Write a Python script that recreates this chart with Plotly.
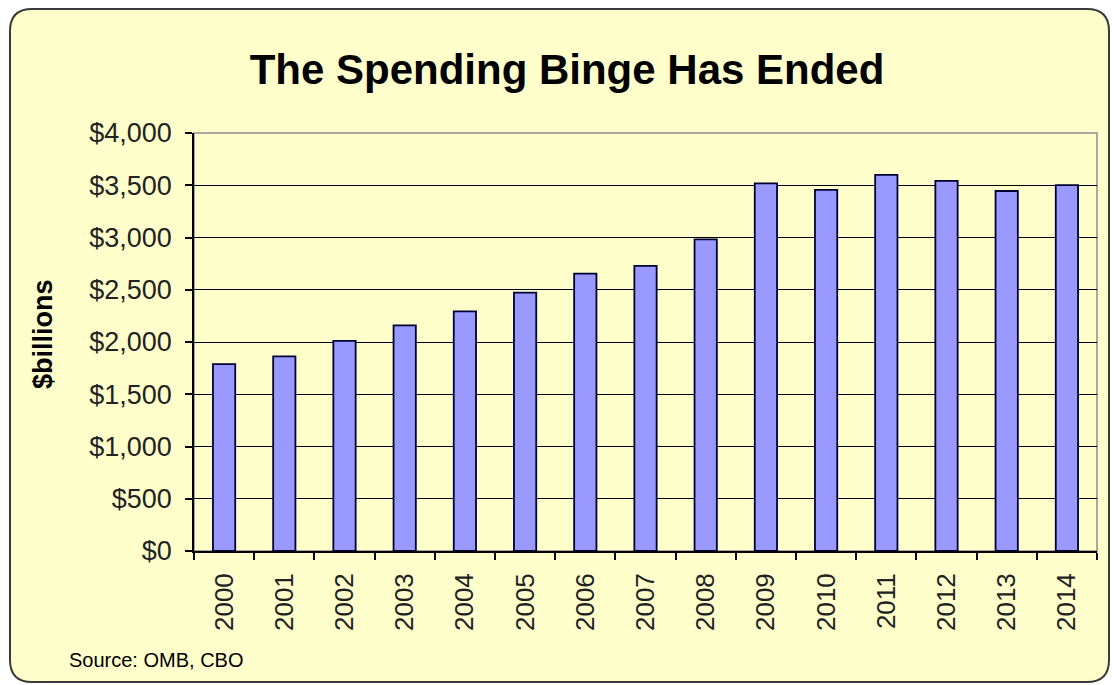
import plotly.graph_objects as go

years = ["2000", "2001", "2002", "2003", "2004", "2005", "2006", "2007",
         "2008", "2009", "2010", "2011", "2012", "2013", "2014"]
outlays = [1789, 1863, 2011, 2160, 2293, 2472, 2655, 2729,
           2983, 3518, 3456, 3600, 3541, 3445, 3502]
y_ticks = [0, 500, 1000, 1500, 2000, 2500, 3000, 3500, 4000]

title_text = "The Spending Binge Has Ended"
y_title = "$billions"
source_text = "Source: OMB, CBO"

W, H = 1114, 685
L, R, T, B = 194, 17, 133, 134
PW, PH = W - L - R, H - T - B
FONT = "Liberation Sans, Arial, sans-serif"


def px(x):
    return (x - L) / PW


def py(y):
    return (H - B - y) / PH


# rounded outer frame (pixel geometry -> paper coordinates)
x0, x1, y0, y1, rr = 10, 1109, 9, 682, 22
path = (
    f"M {px(x0 + rr)},{py(y0)} L {px(x1 - rr)},{py(y0)} "
    f"Q {px(x1)},{py(y0)} {px(x1)},{py(y0 + rr)} "
    f"L {px(x1)},{py(y1 - rr)} "
    f"Q {px(x1)},{py(y1)} {px(x1 - rr)},{py(y1)} "
    f"L {px(x0 + rr)},{py(y1)} "
    f"Q {px(x0)},{py(y1)} {px(x0)},{py(y1 - rr)} "
    f"L {px(x0)},{py(y0 + rr)} "
    f"Q {px(x0)},{py(y0)} {px(x0 + rr)},{py(y0)} Z"
)

fig = go.Figure(
    go.Bar(
        x=years,
        y=outlays,
        marker=dict(color="#9999FF", line=dict(color="#000033", width=1.8)),
        hoverinfo="x+y",
    )
)

fig.update_layout(
    width=W,
    height=H,
    margin=dict(l=L, r=R, t=T, b=B, pad=0),
    paper_bgcolor="white",
    plot_bgcolor="white",
    bargap=0.63,
    showlegend=False,
    title=dict(
        text=title_text,
        x=567 / W,
        xanchor="center",
        xref="container",
        y=1 - 69 / H,
        yref="container",
        yanchor="middle",
        font=dict(family=FONT, size=42, color="black", weight="bold"),
    ),
    shapes=[
        dict(type="path", path=path, xref="paper", yref="paper",
             fillcolor="#FFFFCC", line=dict(color="#3a3a3a", width=2),
             layer="below"),
        dict(type="rect", xref="paper", yref="paper", x0=0, x1=1, y0=0, y1=1,
             line=dict(color="#8c8c8c", width=1.5), fillcolor="rgba(0,0,0,0)",
             layer="below"),
    ],
    annotations=[
        dict(text=y_title, xref="paper", yref="paper", x=px(43), y=py(334),
             xanchor="center", yanchor="middle", textangle=-90, showarrow=False,
             font=dict(family=FONT, size=27, color="black", weight="bold")),
        dict(text=source_text, xref="paper", yref="paper", x=px(67), y=py(660),
             xanchor="left", yanchor="middle", showarrow=False,
             font=dict(family=FONT, size=20, color="black")),
    ],
)

fig.update_yaxes(
    range=[0, 4000],
    tickvals=y_ticks,
    tickformat="$,.0f",
    showgrid=True,
    gridcolor="black",
    gridwidth=1.2,
    zeroline=False,
    showline=True,
    linecolor="black",
    linewidth=1.6,
    ticks="outside",
    ticklen=7,
    tickcolor="black",
    tickwidth=1.5,
    ticklabelstandoff=8,
    tickfont=dict(family=FONT, size=27, color="#222222"),
)

fig.update_xaxes(
    tickangle=-90,
    showline=True,
    linecolor="black",
    linewidth=1.6,
    ticks="outside",
    tickson="boundaries",
    ticklen=7,
    tickcolor="black",
    tickwidth=1.5,
    showgrid=False,
    ticklabelstandoff=10,
    tickfont=dict(family=FONT, size=26, color="#222222"),
)

fig.write_html("out.html")
